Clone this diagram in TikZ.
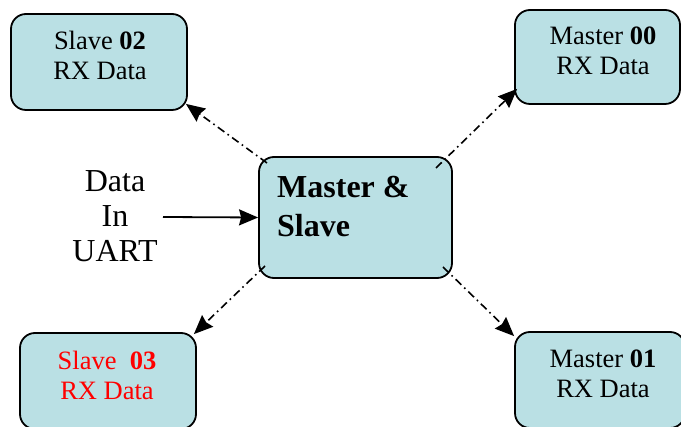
\documentclass[tikz,border=0pt]{standalone}
\usepackage{fontspec}
\setmainfont{Liberation Serif}
\usetikzlibrary{arrows.meta,calc}
\definecolor{boxfill}{RGB}{186,224,228}
\tikzset{
  box/.style={draw=black, line width=1.8pt, fill=boxfill, rounded corners=15pt, inner sep=0pt},
  boxtext/.style={font=\fontsize{26.5}{30}\selectfont, align=center, anchor=base, inner sep=0pt},
  bigtext/.style={font=\fontsize{32}{35}\selectfont, align=center, anchor=base, inner sep=0pt},
  link/.style={line width=1.6pt, dash pattern=on 8pt off 4pt on 1.6pt off 4pt, -{Stealth[length=19pt,width=16pt,inset=2pt]}},
  feed/.style={line width=1.8pt, -{Stealth[length=19pt,width=16pt,inset=2pt]}}
}
\begin{document}
\begin{tikzpicture}[x=1pt,y=-1pt]
\useasboundingbox (0,0) rectangle (681,427);
\clip (0,0) rectangle (681,427);
% boxes
\node[box, minimum width=176pt, minimum height=96pt] (s2) at (99,62) {};
\node[box, minimum width=165pt, minimum height=94pt] (m0) at (597.5,57) {};
\node[box, minimum width=193pt, minimum height=121pt] (c) at (355.5,217.5) {};
\node[box, minimum width=176pt, minimum height=96pt] (s3) at (108,381) {};
\node[box, minimum width=170pt, minimum height=96pt] (m1) at (600,380) {};
% texts (anchored at the baseline of the last line)
\node[boxtext] (s2t) at (100,80) {Slave \textbf{02}\\RX Data};
\node[boxtext] (m0t) at (603,75) {Master \textbf{00}\\RX Data};
\node[boxtext, text=red] (s3t) at (107,400) {Slave~~\textbf{03}\\RX Data};
\node[boxtext] (m1t) at (603,398) {Master \textbf{01}\\RX Data};
\node[font=\fontsize{32}{39}\selectfont\bfseries, align=left, anchor=base west, inner sep=0pt] (ct) at (277,237) {Master \&\\Slave};
\node[bigtext] (din) at (115,262) {Data\\In\\UART};
% connectors
\coordinate (a1) at (163,217);
\draw[feed] (a1) -- (c.west);
\coordinate (cs2) at (267,163);
\coordinate (cm0) at (436,168);
\coordinate (cs3) at (265,266);
\coordinate (cm1) at (443,267);
\draw[link] (cs2) -- ($(s2.south east)+(-2,-7)$);
\draw[link] (cm0) -- ($(m0.south west)+(3,-16)$);
\draw[link] (cs3) -- ($(s3.north east)+(-3,2)$);
\draw[link] (cm1) -- ($(m1.north west)+(0,5)$);
\end{tikzpicture}
\end{document}
